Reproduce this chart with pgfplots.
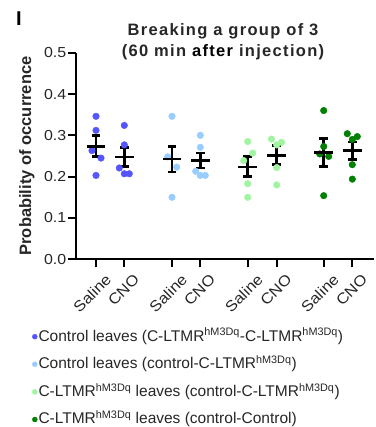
\documentclass[border=0pt]{standalone}
\usepackage{fontspec}
\setmainfont{Liberation Sans}
\newfontfamily\wide{Liberation Sans}[FakeStretch=1.1]
\usepackage{pgfplots}
\pgfplotsset{compat=1.18}
\definecolor{cA}{HTML}{5555FF}
\definecolor{cB}{HTML}{99CCFF}
\definecolor{cC}{HTML}{A0F5A0}
\definecolor{cD}{HTML}{008000}
\definecolor{txt}{HTML}{262626}
\newcommand{\hm}{\textsuperscript{hM3Dq}}
\begin{document}
\begin{tikzpicture}[x=1pt,y=1pt]
\path[use as bounding box] (0,0) rectangle (375,427);
\node[font=\fontsize{20}{20}\selectfont\bfseries, anchor=base] at (19,401) {I};
\begin{axis}[
  at={(76pt,167.7pt)}, anchor=south west,
  scale only axis, width=298pt, height=206.6pt,
  xmin=76, xmax=374, ymin=0, ymax=0.5,
  axis x line*=bottom, axis y line*=left,
  axis line style={line width=2.2pt, black},
  xtick={96,124.3,172,200.3,247.7,276.7,323.7,352.3},
  xticklabels={Saline,CNO,Saline,CNO,Saline,CNO,Saline,CNO},
  ytick={0,0.1,0.2,0.3,0.4,0.5},
  tick align=outside, major tick length=8pt,
  tick style={line width=2pt, black},
  x tick label style={rotate=45, anchor=north east, inner sep=1pt, yshift=-9pt, xshift=3pt, font=\wide\fontsize{15}{15}\selectfont, text=txt},
  y tick label style={font=\wide\fontsize{14.5}{14.5}\selectfont, text=txt, inner sep=1.5pt},
  yticklabel style={/pgf/number format/.cd, fixed, fixed zerofill, precision=1, assume math mode=true},
  ylabel={Probability of occurrence},
  ylabel style={font=\fontsize{16.5}{16.5}\selectfont\bfseries, text=txt, at={(axis description cs:-0.165,0.5)}, anchor=center},
  title={Breaking a group of 3\\(60 min \textcolor{black}{after} injection)},
  title style={at={(axis description cs:0.5,1)}, anchor=center, yshift=5pt, xshift=-2pt, align=center, font=\fontsize{16.5}{21.5}\selectfont\bfseries\addfontfeatures{LetterSpace=8}, text=txt},
  legend style={at={(axis description cs:-0.158,-0.318)}, anchor=north west, draw=none, fill=none,
    font=\fontsize{15.5}{15.5}\selectfont, text=txt, row sep=8.6pt, cells={anchor=west},
    nodes={inner sep=1pt, text height=13pt, text depth=4pt}},
  legend cell align=left,
  clip=false,
]
\addplot[only marks, mark=*, mark size=3.3pt, mark options={draw=none, fill=cA}, color=cA,
  legend image code/.code={\fill[cA] (3pt,0pt) circle (2.5pt);}]
coordinates {(96,0.346) (96,0.312) (92,0.263) (101,0.245) (96,0.203)
 (124.3,0.324) (124.3,0.277) (119.3,0.221) (124.3,0.207) (129.3,0.207)};
\addlegendentry{Control leaves (C-LTMR\hm-C-LTMR\hm)}
\addplot[only marks, mark=*, mark size=3.3pt, mark options={draw=none, fill=cB}, color=cB,
  legend image code/.code={\fill[cB] (3pt,0pt) circle (2.5pt);}]
coordinates {(172,0.346) (167.7,0.248) (176.7,0.223) (172,0.150)
 (200.3,0.300) (200.3,0.271) (195.7,0.213) (200.3,0.203) (205.3,0.203)};
\addlegendentry{Control leaves (control-C-LTMR\hm)}
\addplot[only marks, mark=*, mark size=3.3pt, mark options={draw=none, fill=cC}, color=cC,
  legend image code/.code={\fill[cC] (3pt,0pt) circle (2.5pt);}]
coordinates {(247.7,0.285) (252.7,0.257) (243.7,0.239) (247.7,0.183) (247.7,0.150)
 (271.5,0.291) (281.5,0.283) (276.7,0.277) (276.7,0.222) (276.7,0.180)};
\addlegendentry{C-LTMR\hm{} leaves (control-C-LTMR\hm)}
\addplot[only marks, mark=*, mark size=3.3pt, mark options={draw=none, fill=cD}, color=cD,
  legend image code/.code={\fill[cD] (3pt,0pt) circle (2.5pt);}]
coordinates {(323.7,0.360) (323.7,0.273) (319.7,0.255) (328.7,0.249) (323.7,0.154)
 (347.3,0.304) (357.3,0.297) (352.3,0.290) (352.3,0.229) (352.3,0.194)};
\addlegendentry{C-LTMR\hm{} leaves (control-Control)}
\addplot[forget plot, only marks, black, mark=-, mark size=9.3pt, mark options={line width=2.6pt, black},
  error bars/.cd, y dir=both, y explicit,
  error bar style={line width=2.6pt, black},
  error mark options={line width=2.6pt, mark size=4.3pt, black, rotate=90}]
coordinates {
 (96,0.273) += (0,0.026) -= (0,0.024)
 (124.3,0.248) += (0,0.023) -= (0,0.023)
 (172,0.243) += (0,0.030) -= (0,0.032)
 (200.3,0.239) += (0,0.018) -= (0,0.018)
 (247.7,0.223) += (0,0.026) -= (0,0.023)
 (276.7,0.251) += (0,0.024) -= (0,0.022)
 (323.7,0.259) += (0,0.033) -= (0,0.034)
 (352.3,0.264) += (0,0.020) -= (0,0.023)
};
\end{axis}
\end{tikzpicture}
\end{document}
